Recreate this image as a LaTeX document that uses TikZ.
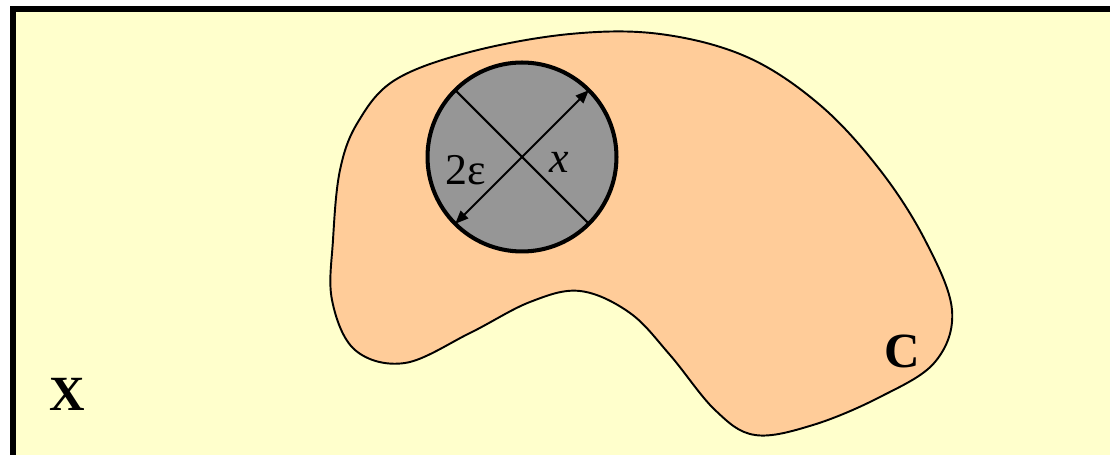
\documentclass[tikz,border=0pt]{standalone}
\usepackage{fontspec}
\setmainfont{Liberation Serif}
\usetikzlibrary{arrows.meta}
\definecolor{paleyellow}{HTML}{FFFFCC}
\definecolor{peach}{HTML}{FFCC99}
\definecolor{ballgray}{HTML}{969696}

\begin{document}
\begin{tikzpicture}[x=0.02cm,y=-0.02cm,>={Triangle[length=7.5pt,width=6pt]},
  lbl/.style={font=\fontsize{25}{30}\selectfont,inner sep=0pt,anchor=base},
  setl/.style={font=\fontsize{28}{34}\selectfont\bfseries,inner sep=0pt,anchor=base}]
  \useasboundingbox (0,0) rectangle (1110,455);
  \clip (0,0) rectangle (1110,455);
  % space X
  \draw[line width=3.4pt,fill=paleyellow] (13,9) rectangle (1140,490);
  % set C
  \draw[line width=1.1pt,fill=peach] plot[smooth cycle,tension=0.6] coordinates {
    (333,240) (340,170) (358,122) (395,80) (470,52) (570,34) (660,34) (747,57)
    (820,105) (880,170) (925,240) (952,310) (935,362) (880,397) (813,425) (755,435)
    (715,410) (670,355) (630,313) (580,291) (530,302) (470,333) (405,363) (355,350)
    (332,300)};
  % ball of radius eps
  \node[circle,draw,line width=2.3pt,fill=ballgray,minimum size=3.78cm,
    inner sep=0pt,outer sep=0pt] (ball) at (522,157) {};
  \draw[line width=1.2pt] (ball.135) -- (ball.-45);
  \draw[line width=1.2pt,<->] (ball.-135) -- (ball.45);
  \node[lbl] (eps) at (466,185) {2ε};
  \node[lbl] (pt) at (559,173) {\textit{x}};
  \node[setl] (setc) at (902,368) {C};
  \node[setl] (setx) at (67,411) {X};
\end{tikzpicture}
\end{document}
